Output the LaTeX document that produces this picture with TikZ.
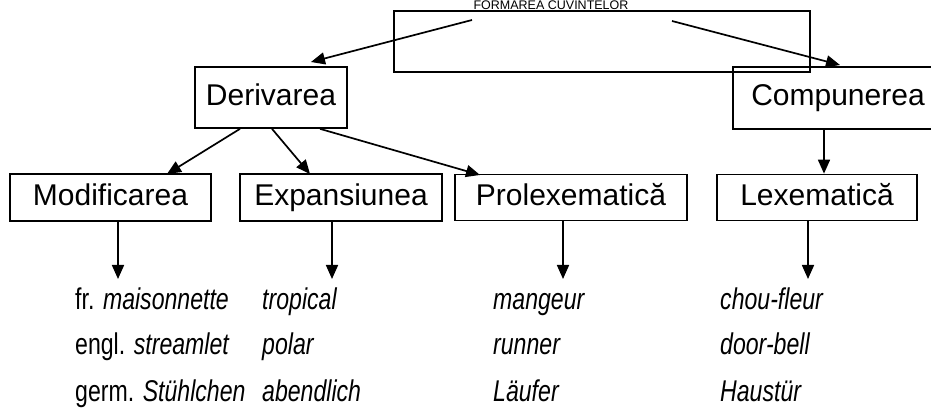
\documentclass[tikz,border=0pt]{standalone}
\usepackage{fontspec}
\setmainfont{Liberation Sans}
\newfontfamily\nf[FakeStretch=0.77]{Liberation Sans}
\usetikzlibrary{arrows.meta}
\begin{document}
\begin{tikzpicture}[x=1pt,y=-1pt,
  box/.style={draw,line width=1.7pt,inner sep=0pt,text height=21pt,text depth=5pt,font=\fontsize{30}{31}\selectfont},
  arr/.style={line width=1.7pt,-{Triangle[length=14pt,width=12pt]}},
  ex/.style={anchor=base west,inner sep=0pt,font=\nf\fontsize{30}{31}\selectfont}]
\useasboundingbox (0,0) rectangle (931,419);
% title above the top box
\node[anchor=base,inner sep=0pt,font=\fontsize{12.5}{13}\selectfont] (title) at (551,9.5) {FORMAREA CUVINTELOR};
% boxes
\node[box,minimum width=416pt,minimum height=61pt] (top) at (602,41.5) {};
\node[box,minimum width=152pt,minimum height=61pt] (der) at (271,97.5) {Derivarea};
\node[box,minimum width=210pt,minimum height=62pt] (comp) at (838,98) {Compunerea};
\node[box,minimum width=201pt,minimum height=47pt] (mod) at (110.5,197.5) {Modificarea};
\node[box,minimum width=202pt,minimum height=47pt] (exp) at (341,197.5) {Expansiunea};
\node[box,minimum width=232pt,minimum height=46pt] (pro) at (571,197.5) {Prolexematică};
\node[box,minimum width=200pt,minimum height=46pt] (lex) at (817,197.5) {Lexematică};
% arrow anchors
\coordinate (ts1) at (472,20);
\coordinate (ts2) at (672,21);
\coordinate (td1) at (311,62);
\coordinate (td2) at (840,65);
\coordinate (e1) at (118,279);
\coordinate (e2) at (332,279);
\coordinate (e3) at (563,279);
\coordinate (e4) at (808,279);
% connectors
\draw[arr] (ts1) -- (td1);
\draw[arr] (ts2) -- (td2);
\draw[arr] (der.south -| 240,0) -- (167,174);
\draw[arr] (der.south -| 272,0) -- (310,174);
\draw[arr] (der.south -| 320,0) -- (480,175);
\draw[arr] (comp.south -| 824,0) -- (lex.north -| 824,0);
\draw[arr] (mod.south -| e1) -- (e1);
\draw[arr] (exp.south -| e2) -- (e2);
\draw[arr] (pro.south -| e3) -- (e3);
\draw[arr] (lex.south -| e4) -- (e4);
% examples
\node[ex] (a1) at (75,309) {fr. \textit{maisonnette}};
\node[ex] (a2) at (75,355) {engl. \textit{streamlet}};
\node[ex] (a3) at (75,401) {germ. \textit{Stühlchen}};
\node[ex] (b1) at (262,309) {\textit{tropical}};
\node[ex] (b2) at (262,355) {\textit{polar}};
\node[ex] (b3) at (262,401) {\textit{abendlich}};
\node[ex] (c1) at (493,309) {\textit{mangeur}};
\node[ex] (c2) at (493,355) {\textit{runner}};
\node[ex] (c3) at (493,401) {\textit{Läufer}};
\node[ex] (d1) at (720,309) {\textit{chou-fleur}};
\node[ex] (d2) at (720,355) {\textit{door-bell}};
\node[ex] (d3) at (720,401) {\textit{Haustür}};
\end{tikzpicture}
\end{document}
